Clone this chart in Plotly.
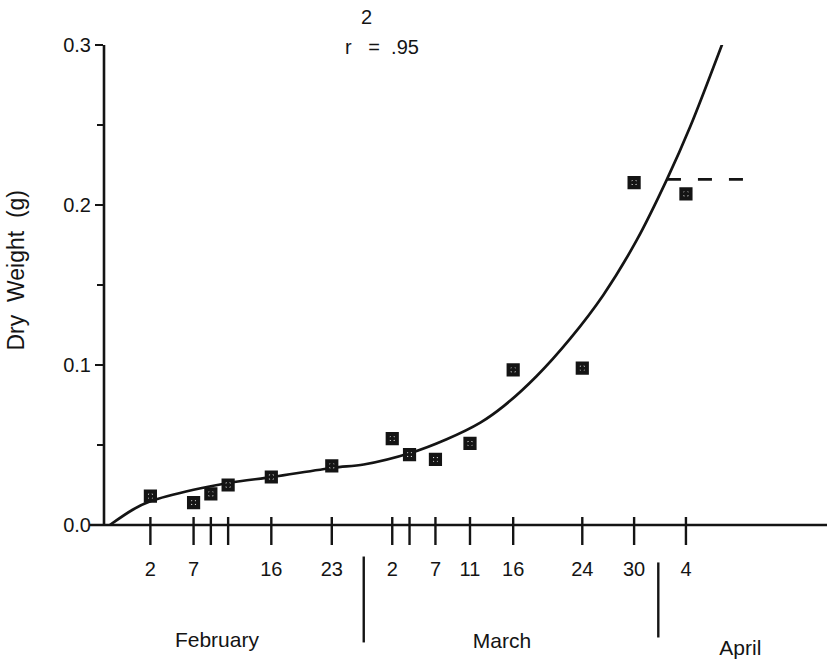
import plotly.graph_objects as go

# ---- data (days counted from Jan 31; Feb 2 = 2, Mar 2 = 30, Apr 4 = 64) ----
sample_days = [2, 7, 9, 11, 16, 23, 30, 32, 35, 39, 44, 52, 58, 64]
dry_weight = [0.018, 0.014, 0.0195, 0.025, 0.030, 0.037, 0.054, 0.044, 0.041,
              0.051, 0.097, 0.098, 0.214, 0.207]

# fitted curve
curve_days = [-2.7, 0.0, 2.0, 7.0, 11.2, 16.2, 23.2, 26.7, 32.1, 36.3, 40.2,
              42.9, 46.7, 50.6, 54.4, 58.3, 61.8, 64.5, 68.3]
curve_weight = [0.000, 0.0097, 0.0148, 0.022, 0.0264, 0.0301, 0.0358, 0.0378,
                0.045, 0.0536, 0.064, 0.0743, 0.093, 0.1165, 0.1435, 0.178,
                0.216, 0.249, 0.302]

# dashed plateau
plateau_days = [61.8, 71.4]
plateau_weight = [0.216, 0.216]

tick_days = [2, 7, 9, 11, 16, 23, 30, 32, 35, 39, 44, 52, 58, 64]
tick_labels = ["2", "7", "", "", "16", "23", "2", "", "7", "11", "16", "24", "30", "4"]

month_names = ["February", "March", "April"]
month_label_days = [9.7, 42.7, 70.3]
month_boundary_days = [26.7, 60.8]

y_tick_vals = [0.0, 0.1, 0.2, 0.3]
y_tick_text = ["0.0", "0.1", "0.2", "0.3"]
y_minor_vals = [0.05, 0.15, 0.25]

title_lines = ["2", "r\u00a0\u00a0\u00a0=\u00a0\u00a0.95"]
y_title = "Dry\u00a0\u00a0Weight\u00a0\u00a0(g)"

# ---- styling / layout constants ----
FONT = "Liberation Sans, Arial, Helvetica, sans-serif"
INK = "#141414"
X_RANGE = [-3.37, 80.33]
Y_MIN, Y_MAX = -0.0875, 0.3          # extra room below zero for the date scale
Y0_PAPER = (0 - Y_MIN) / (Y_MAX - Y_MIN)

TICK_TOP, TICK_BOTTOM = 0.005, -0.0125
LABEL_Y = -0.0288
MONTH_LABEL_Y = [-0.0728, -0.0734, -0.0778]
BAR_SPANS = [(-0.0197, -0.0734), (-0.0234, -0.0703)]


def segments(xs, spans):
    sx, sy = [], []
    for x, (a, b) in zip(xs, spans):
        sx += [x, x, None]
        sy += [a, b, None]
    return sx, sy


fig = go.Figure()

# fitted curve
fig.add_trace(go.Scatter(
    x=curve_days, y=curve_weight, mode="lines",
    line=dict(color=INK, width=2.7, shape="spline", smoothing=0.9),
    hoverinfo="skip"))

# dashed plateau
fig.add_trace(go.Scatter(
    x=plateau_days, y=plateau_weight, mode="lines",
    line=dict(color=INK, width=2.7, dash="14px,17px"),
    hoverinfo="skip"))

# observed points
fig.add_trace(go.Scatter(
    x=sample_days, y=dry_weight, mode="markers",
    marker=dict(symbol="square-dot", size=9, color="white",
                line=dict(color=INK, width=4.2))))

# x-axis tick marks crossing the axis line
tx, ty = segments(tick_days, [(TICK_TOP, TICK_BOTTOM)] * len(tick_days))
fig.add_trace(go.Scatter(x=tx, y=ty, mode="lines",
                         line=dict(color=INK, width=2.4), hoverinfo="skip"))

# x tick labels (dates)
fig.add_trace(go.Scatter(
    x=tick_days, y=[LABEL_Y] * len(tick_days), mode="text", text=tick_labels,
    textposition="middle center",
    textfont=dict(family=FONT, size=20, color=INK), hoverinfo="skip"))

# month boundary bars
bx, by = segments(month_boundary_days, BAR_SPANS)
fig.add_trace(go.Scatter(x=bx, y=by, mode="lines",
                         line=dict(color=INK, width=2.4), hoverinfo="skip"))

# month names
fig.add_trace(go.Scatter(
    x=month_label_days, y=MONTH_LABEL_Y, mode="text", text=month_names,
    textposition="middle center",
    textfont=dict(family=FONT, size=21, color=INK), hoverinfo="skip"))

annotations = [
    dict(x=0.3624, y=1.045, xref="paper", yref="paper", text=title_lines[0],
         showarrow=False, xanchor="center", yanchor="middle",
         font=dict(family=FONT, size=20, color=INK)),
    dict(x=0.3845, y=0.9968, xref="paper", yref="paper", text=title_lines[1],
         showarrow=False, xanchor="center", yanchor="middle",
         font=dict(family=FONT, size=20, color=INK)),
    dict(x=-0.121, y=0.637, xref="paper", yref="paper", text=y_title,
         showarrow=False, textangle=-90, xanchor="center", yanchor="middle",
         font=dict(family=FONT, size=23, color=INK)),
]

shapes = [
    # x axis line (extends a little left of the y axis)
    dict(type="line", xref="paper", yref="paper", x0=-0.0194, x1=1.0,
         y0=Y0_PAPER, y1=Y0_PAPER, line=dict(color=INK, width=2.6)),
    # y axis line from 0 to 0.3
    dict(type="line", xref="paper", yref="paper", x0=0, x1=0,
         y0=Y0_PAPER, y1=1.0, line=dict(color=INK, width=2.6)),
]

fig.update_layout(
    width=827, height=665,
    margin=dict(l=104, r=0, t=45, b=0),
    paper_bgcolor="white", plot_bgcolor="white",
    showlegend=False,
    annotations=annotations,
    shapes=shapes,
    font=dict(family=FONT, size=20, color=INK),
)

fig.update_xaxes(
    range=X_RANGE, showgrid=False, zeroline=False, showline=False,
    showticklabels=False, ticks="",
)

fig.update_yaxes(
    range=[Y_MIN, Y_MAX], showgrid=False, zeroline=False, showline=False,
    tickmode="array", tickvals=y_tick_vals, ticktext=y_tick_text,
    ticks="outside", ticklen=8, tickwidth=2.4, tickcolor=INK,
    tickfont=dict(family=FONT, size=20, color=INK),
    minor=dict(tickmode="array", tickvals=y_minor_vals, ticks="outside",
               ticklen=6, tickwidth=2.2, tickcolor=INK),
)

fig.write_html(
    "out.html",
    config={"displayModeBar": False},
    post_script="document.body.style.margin='0';document.body.style.overflow='hidden';",
)
